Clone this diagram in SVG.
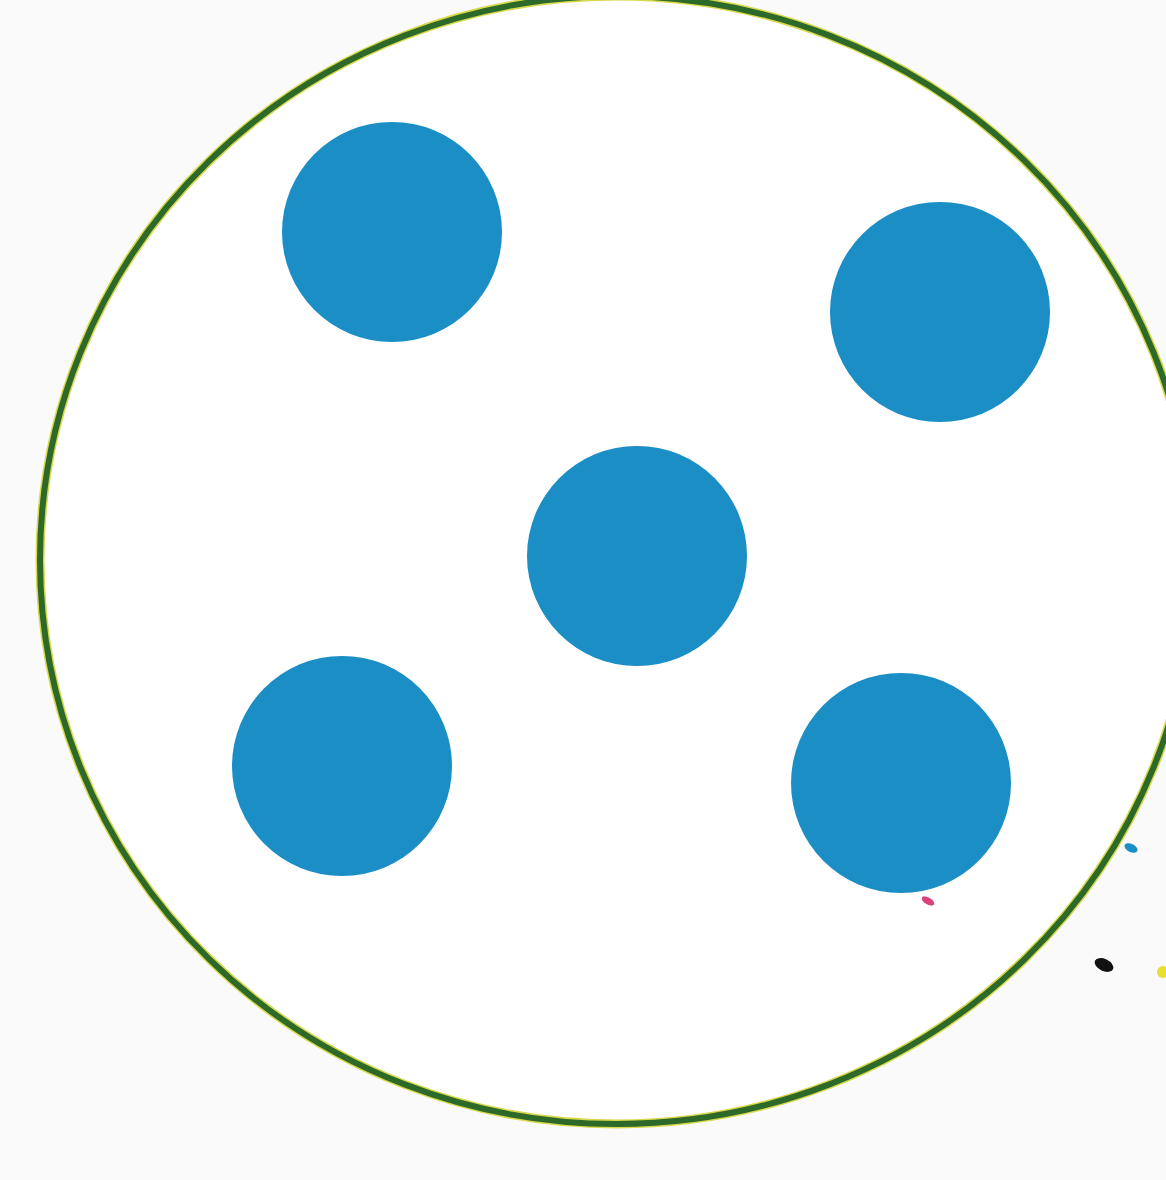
<svg xmlns="http://www.w3.org/2000/svg" width="1166" height="1180" viewBox="0 0 1166 1180">
<style>
.dot{fill:#1b8ec6}
</style>
<rect width="1166" height="1180" fill="#fafafa"/>
<g id="outer">
<ellipse cx="617" cy="560" rx="577" ry="564" fill="#ffffff" stroke="#d8d84a" stroke-width="9"/>
<ellipse cx="617" cy="560" rx="577" ry="564" fill="none" stroke="#2d6a2a" stroke-width="6"/>
</g>
<g id="dots">
<circle id="dot1" class="dot" cx="392" cy="232" r="110"/>
<circle id="dot2" class="dot" cx="940" cy="312" r="110"/>
<circle id="dot3" class="dot" cx="637" cy="556" r="110"/>
<circle id="dot4" class="dot" cx="342" cy="766" r="110"/>
<circle id="dot5" class="dot" cx="901" cy="783" r="110"/>
</g>
<g id="specks">
<ellipse cx="1131" cy="848" rx="7" ry="4" fill="#1b8ec6" transform="rotate(25 1131 848)"/>
<ellipse cx="928" cy="901" rx="7" ry="3.5" fill="#d9447a" transform="rotate(30 928 901)"/>
<ellipse cx="1104" cy="965" rx="10" ry="6" fill="#111" transform="rotate(25 1104 965)"/>
<ellipse cx="1163" cy="972" rx="6" ry="6" fill="#e8e030"/>
</g>
</svg>
